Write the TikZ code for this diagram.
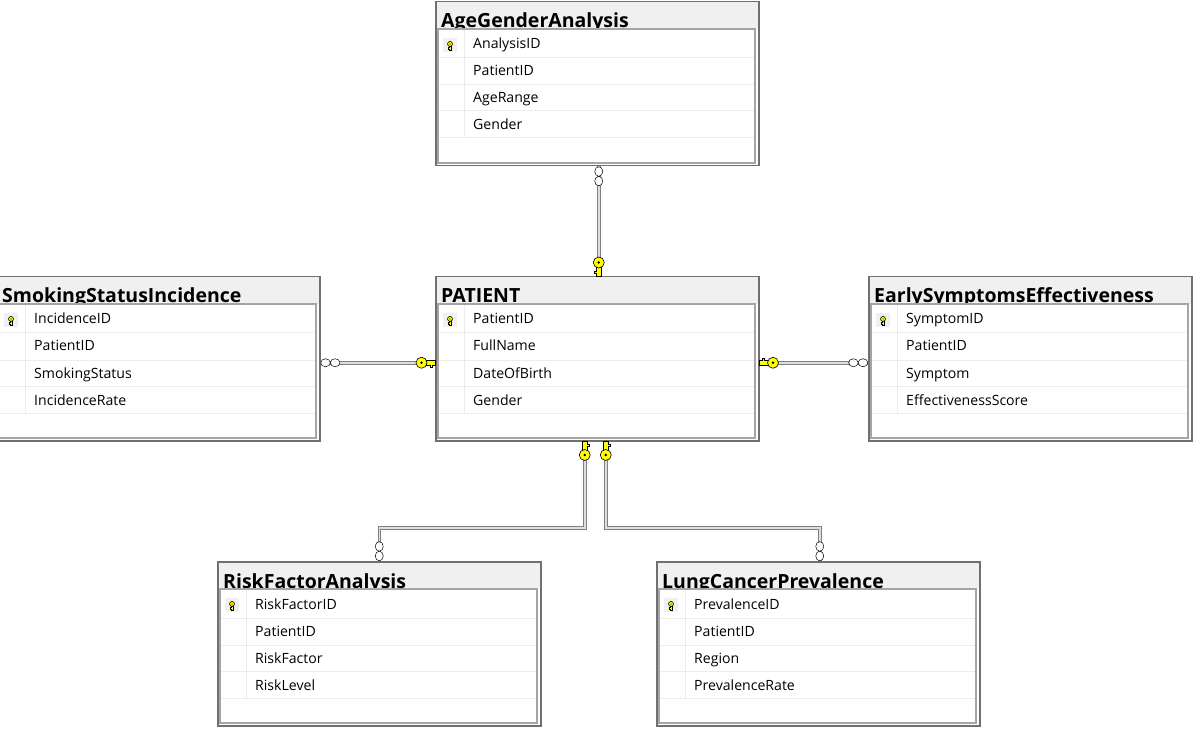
\documentclass[tikz,border=0pt]{standalone}
\usepackage{fontspec}
\setmainfont{Open Sans}
\usetikzlibrary{calc}
\definecolor{framegray}{RGB}{112,112,112}
\definecolor{innergray}{RGB}{165,165,165}
\definecolor{headfill}{RGB}{240,240,240}
\definecolor{rowgray}{RGB}{236,236,236}
\definecolor{keyyellow}{RGB}{255,255,0}
\definecolor{linedark}{RGB}{128,128,128}
\definecolor{linelight}{RGB}{222,222,222}

\tikzset{
  tableframe/.style={draw=framegray, line width=1.5pt, minimum width=323pt, minimum height=164pt, inner sep=0pt, anchor=north west},
  innerframe/.style={draw=innergray, line width=1.2pt, fill=white},
  rowline/.style={draw=rowgray, line width=1pt},
  tabletitle/.style={anchor=base west, inner sep=0pt, font=\bfseries\fontsize{19.5}{22}\selectfont},
  fieldtext/.style={anchor=base west, inner sep=0pt, font=\fontsize{14.1}{16}\selectfont},
  relline/.style={draw=linedark, line width=1pt, double=linelight, double distance=1.5pt},
  keyfill/.style={fill=keyyellow, draw=black, line width=0.6pt},
  pkkey/.pic={
    \filldraw[keyfill] (-9,-2.5) -- (0,-2.5) -- (0,2.5) -- (-2.5,2.5) -- (-2.5,4.5) -- (-5,4.5) -- (-5,2.5) -- (-9,2.5) -- cycle;
    \filldraw[keyfill] (-13.5,0) circle[radius=5.5pt];
    \fill (-13.5,0) circle[radius=1.3pt];
  },
  manyend/.pic={
    \filldraw[fill=white, draw=black, line width=0.5pt] (5,0) ellipse[x radius=4.8pt, y radius=4pt] (14.6,0) ellipse[x radius=4.8pt, y radius=4pt];
  }
}

\newcommand{\erdtable}[5]{%
  \begin{scope}[shift={(#2,#3)}]
    \fill[headfill] (0,0) rectangle (323,28);
    \node[tabletitle] (#1-title) at (6,27) {#4};
    \draw[innerframe] (3,28) rectangle (320,162);
    \foreach \r in {57,84,110,137} \draw[rowline] (4,\r) -- (319,\r);
    \draw[rowline] (29,29) -- (29,137);
    \fill[headfill] (8,37) rectangle (22,51);
    \pic[scale=0.45, rotate=-90] at (15,49) {pkkey};
    \foreach \f [count=\i] in {#5} \node[fieldtext] (#1-f\i) at (38,21+27*\i) {\f};
    \node[tableframe] (#1) at (0,0) {};
  \end{scope}}

\begin{document}
\begin{tikzpicture}[x=1pt, y=-1pt]
\useasboundingbox (0,0) rectangle (1197,735);
\clip (0,0) rectangle (1197,735);
\fill[white] (0,0) rectangle (1197,735);

\erdtable{agegender}{435}{1}{AgeGenderAnalysis}{AnalysisID,PatientID,AgeRange,Gender}
\erdtable{patient}{435}{276}{PATIENT}{PatientID,FullName,DateOfBirth,Gender}
\erdtable{smoking}{-4}{276}{SmokingStatusIncidence}{IncidenceID,PatientID,SmokingStatus,IncidenceRate}
\erdtable{early}{868}{276}{EarlySymptomsEffectiveness}{SymptomID,PatientID,Symptom,EffectivenessScore}
\erdtable{riskfactor}{217}{561}{RiskFactorAnalysis}{RiskFactorID,PatientID,RiskFactor,RiskLevel}
\erdtable{lungcancer}{656}{561}{LungCancerPrevalence}{PrevalenceID,PatientID,Region,PrevalenceRate}

% relationships
\draw[relline] ([xshift=1.5pt]agegender.south) -- ([xshift=1.5pt]patient.north);
\draw[relline] ([yshift=-4pt]smoking.east) -- ([yshift=-4pt]patient.west);
\draw[relline] ([yshift=-4pt]patient.east) -- ([yshift=-4pt]early.west);
\draw[relline] ([xshift=-12.5pt]patient.south) |- ([yshift=33pt]riskfactor.north) -- (riskfactor.north);
\draw[relline] ([xshift=8.5pt]patient.south) |- ([xshift=1.5pt,yshift=33pt]lungcancer.north) -- ([xshift=1.5pt]lungcancer.north);

\pic[rotate=-90] at ([xshift=1.5pt]agegender.south) {manyend};
\pic[rotate=-90] at ([xshift=1.5pt]patient.north) {pkkey};
\pic at ([yshift=-4pt]smoking.east) {manyend};
\pic at ([yshift=-4pt]patient.west) {pkkey};
\pic[rotate=180] at ([yshift=-4pt]patient.east) {pkkey};
\pic[rotate=180] at ([yshift=-4pt]early.west) {manyend};
\pic[rotate=90] at ([xshift=-12.5pt]patient.south) {pkkey};
\pic[rotate=90] at (riskfactor.north) {manyend};
\pic[rotate=90] at ([xshift=8.5pt]patient.south) {pkkey};
\pic[rotate=90] at ([xshift=1.5pt]lungcancer.north) {manyend};
\end{tikzpicture}
\end{document}
